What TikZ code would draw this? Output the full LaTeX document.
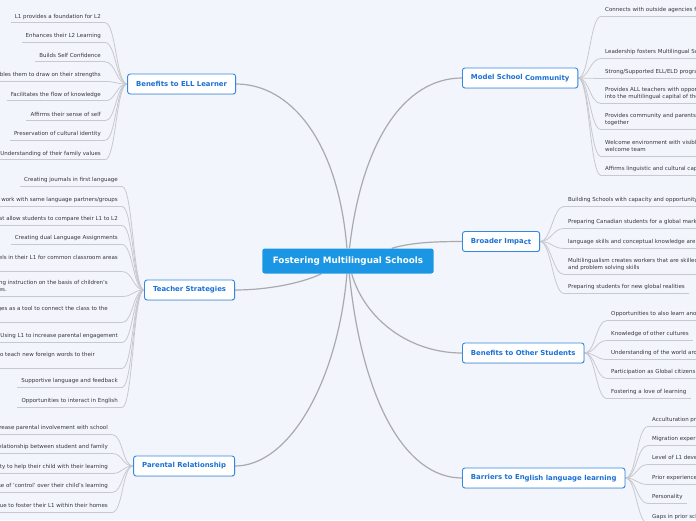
\documentclass[tikz,border=0pt]{standalone}
\usepackage{fontspec}
\setmainfont{DejaVu Sans}
\usetikzlibrary{shadows,backgrounds}
\definecolor{bgc}{RGB}{243,245,252}
\definecolor{leafg}{RGB}{200,201,206}
\definecolor{maing}{RGB}{170,170,174}
\definecolor{txt}{RGB}{55,55,60}
\definecolor{blu}{RGB}{26,112,214}
\definecolor{bord}{RGB}{50,136,226}
\definecolor{cfill}{RGB}{27,150,228}
\tikzset{
  leaf/.style={font=\fontsize{5.5}{7}\selectfont, text=txt, inner xsep=4pt, inner ysep=3.2pt, align=left,
    execute at begin node={\rule{0pt}{4.2pt}}, execute at end node={\rule[-1.3pt]{0pt}{1pt}}},
  uline/.style={draw=leafg, line width=0.8pt},
  leafL/.style={leaf, anchor=south east,
    append after command={(\tikzlastnode.south west) edge[uline] (\tikzlastnode.south east)}},
  leafR/.style={leaf, anchor=south west,
    append after command={(\tikzlastnode.south west) edge[uline] (\tikzlastnode.south east)}},
  topic/.style={draw=bord, line width=0.9pt, fill=white, rounded corners=2.5pt, text=blu,
    font=\bfseries\fontsize{6.9}{8}\selectfont, minimum height=20pt, inner xsep=8.5pt,
    drop shadow={shadow xshift=0.5pt, shadow yshift=-0.7pt, opacity=0.25}},
  central/.style={fill=cfill, rounded corners=2.5pt, text=white,
    font=\bfseries\fontsize{8.8}{10}\selectfont, minimum height=25pt, inner xsep=10.5pt},
  mainline/.style={draw=maing, line width=1.2pt},
  branch/.style={draw=leafg, line width=0.8pt},
}
\begin{document}
\begin{tikzpicture}[x=1pt, y=-1pt]
\useasboundingbox (0,0) rectangle (696,520);

% central and main topics
\node[central] (c) at (348,261) {Fostering Multilingual Schools};
\node[topic, anchor=east] (ell) at (236,84) {Benefits to ELL Learner};
\node[topic, anchor=east] (ts) at (235,290) {Teacher Strategies};
\node[topic, anchor=east] (pr) at (235,466) {Parental Relationship};
\node[topic, anchor=west] (ms) at (462,78) {Model School \raisebox{-1pt}{Community}};
\node[topic, anchor=west] (bi) at (462,241.5) {Broader Impa\raisebox{-1pt}{ct}};
\node[topic, anchor=west] (bo) at (462,353) {Benefits to Other Students};
\node[topic, anchor=west] (bl) at (462,478) {Barriers to En\raisebox{-1pt}{glish language learning}};

% Benefits to ELL Learner
\node[leafL] (e1) at (105,22.8) {L1 provides a foundation for L2};
\node[leafL] (e2) at (105,42.5) {Enhances their L2 Learning};
\node[leafL] (e3) at (105,61.8) {Builds Self Confidence};
\node[leafL] (e4) at (105,81.5) {Enables them to draw on their strengths};
\node[leafL] (e5) at (105,100.8) {Facilitates the flow of knowledge};
\node[leafL] (e6) at (105,120.8) {Affirms their sense of self};
\node[leafL] (e7) at (105,140.2) {Preservation of cultural identity};
\node[leafL] (e8) at (105,159.8) {Understanding of their family values};

% Teacher Strategies
\node[leafL] (t1) at (122,186.5) {Creating journals in first language};
\node[leafL] (t2) at (122,206.5) {Allowing students to work with same language partners/groups};
\node[leafL] (t3) at (122,225.5) {Create activities that allow students to compare their L1 to L2};
\node[leafL] (t4) at (122,244.5) {Creating dual Language Assignments};
\node[leafL] (t5) at (122,271.5) {Creating signs and labels in their L1 for common classroom areas\\and items};
\node[leafL] (t6) at (122,296.5) {Aligning instruction on the basis of children's\rule{10pt}{0pt}\\abilities.};
\node[leafL] (t7) at (122,322.5) {Using students' languages as a tool to connect the class to the\rule{10pt}{0pt}\\home};
\node[leafL] (t8) at (122,342.5) {Using L1 to increase parental engagement};
\node[leafL] (t9) at (122,368.5) {Encourage students to teach new foreign words to their\rule{23pt}{0pt}\\classmates};
\node[leafL] (t10) at (122,387.5) {Supportive language and feedback};
\node[leafL] (t11) at (122,407.5) {Opportunities to interact in English};

% Parental Relationship
\node[leafL] (p1) at (112,434.5) {Increase parental involvement with school};
\node[leafL] (p2) at (112,453.5) {Strengthen relationship between student and family};
\node[leafL] (p3) at (112,473.5) {Increases parents' ability to help their child with their learning};
\node[leafL] (p4) at (112,492.5) {Gives parents a sense of `control' over their child's learning};
\node[leafL] (p5) at (112,512.5) {Parents can continue to foster their L1 within their homes};

% Model School Community
\node[leafR] (m1) at (601,16.5) {Connects with outside agencies for support};
\node[leafR] (m2) at (601,58.5) {Leadership fosters Multilingual School Community};
\node[leafR] (m3) at (601,78.5) {Strong/Supported ELL/ELD programs};
\node[leafR] (m4) at (601,103.5) {Provides ALL teachers with opportunities to tap\\into the multilingual capital of their students};
\node[leafR] (m5) at (601,129.5) {Provides community and parents opportunities to come\\together};
\node[leafR] (m6) at (601,156.5) {Welcome environment with visible multilingual signage and a\\welcome team};
\node[leafR] (m7) at (601,175.5) {Affirms linguistic and cultural capital};

% Broader Impact
\node[leafR] (b1) at (564,206.5) {Building Schools with capacity and opportunity for all};
\node[leafR] (b2) at (564,228.5) {Preparing Canadian students for a global market};
\node[leafR] (b3) at (564,248.5) {language skills and conceptual knowledge are transferable};
\node[leafR] (b4) at (564,274.5) {Multilingualism creates workers that are skilled in critical thinking\\and problem solving skills};
\node[leafR] (b5) at (564,293.5) {Preparing students for new global realities};

% Benefits to Other Students
\node[leafR] (o1) at (607,320.5) {Opportunities to also learn another language};
\node[leafR] (o2) at (607,340.5) {Knowledge of other cultures};
\node[leafR] (o3) at (607,359.5) {Understanding of the world around them};
\node[leafR] (o4) at (607,378.5) {Participation as Global citizens};
\node[leafR] (o5) at (607,398.5) {Fostering a love of learning};

% Barriers
\node[leafR] (r1) at (648,426.5) {Acculturation process};
\node[leafR] (r2) at (648,445.5) {Migration experience};
\node[leafR] (r3) at (648,464.5) {Level of L1 development};
\node[leafR] (r4) at (648,484.5) {Prior experience with English};
\node[leafR] (r5) at (648,503.5) {Personality};
\node[leafR] (r6) at (648,523.5) {Gaps in prior schooling};

\begin{scope}[on background layer]
  \fill[bgc] (0,0) rectangle (696,520);
  % central connectors
  \draw[mainline] (c) .. controls (338,140) and (290,84) .. (ell.east);
  \draw[mainline] (c) .. controls (300,284) and (265,290) .. (ts.east);
  \draw[mainline] (c) .. controls (338,380) and (290,466) .. (pr.east);
  \draw[mainline] (c) .. controls (362,140) and (405,78) .. (ms.west);
  \draw[mainline] (c) .. controls (410,243) and (430,241.5) .. (bi.west);
  \draw[mainline] (c) .. controls (365,320) and (410,353) .. (bo.west);
  \draw[mainline] (c) .. controls (362,400) and (405,478) .. (bl.west);
  % leaf connectors
  \foreach \i in {1,...,8}
    \draw[branch] (ell.west) .. controls +(-11,0) and +(11,0) .. (e\i.south east);
  \foreach \i in {1,...,11}
    \draw[branch] (ts.west) .. controls +(-11,0) and +(11,0) .. (t\i.south east);
  \foreach \i in {1,...,5}
    \draw[branch] (pr.west) .. controls +(-11,0) and +(11,0) .. (p\i.south east);
  \foreach \i in {1,...,7}
    \draw[branch] (ms.east) .. controls +(11,0) and +(-11,0) .. (m\i.south west);
  \foreach \i in {1,...,5}
    \draw[branch] (bi.east) .. controls +(11,0) and +(-11,0) .. (b\i.south west);
  \foreach \i in {1,...,5}
    \draw[branch] (bo.east) .. controls +(11,0) and +(-11,0) .. (o\i.south west);
  \foreach \i in {1,...,6}
    \draw[branch] (bl.east) .. controls +(11,0) and +(-11,0) .. (r\i.south west);
\end{scope}
\end{tikzpicture}
\end{document}
